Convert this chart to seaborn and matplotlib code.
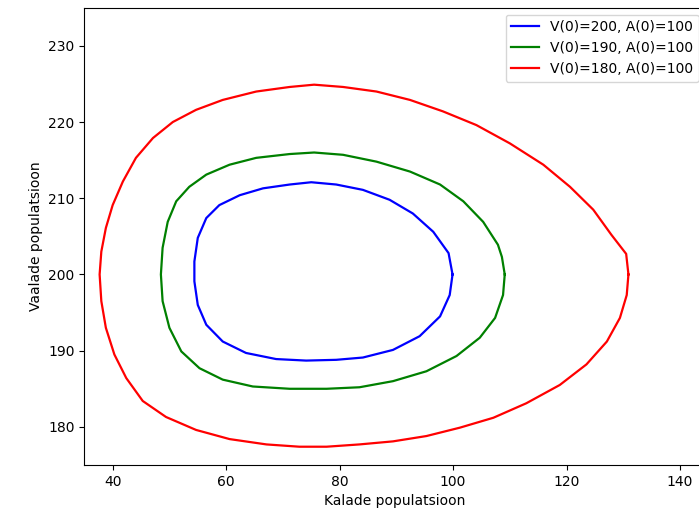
import matplotlib
matplotlib.use("Agg")
import matplotlib.pyplot as plt
import seaborn as sns

# orbits (kalade, vaalade), walked round each loop
blue_x = [99.9, 99.2, 96.5, 92.9, 88.8, 84.1, 79.4, 75.0, 71.2, 66.5, 62.4, 58.8, 56.5, 55.0, 54.4,
          54.4, 55.0, 56.5, 59.4, 63.5, 68.8, 74.1, 79.4, 84.1, 89.4, 94.1, 97.7, 99.4, 99.9]
blue_y = [200.0, 202.8, 205.6, 208.0, 209.8, 211.1, 211.8, 212.1, 211.8, 211.3, 210.4, 209.1, 207.4, 204.8, 201.7,
          199.1, 196.0, 193.4, 191.2, 189.7, 188.9, 188.7, 188.8, 189.1, 190.1, 191.9, 194.5, 197.3, 200.0]

green_x = [109.1, 108.6, 107.9, 105.3, 101.8, 97.7, 92.4, 86.5, 80.6, 75.5, 71.2, 65.3, 60.6, 56.5, 53.5, 51.2, 49.7,
           48.8, 48.5, 48.8, 50.0, 52.1, 55.3, 59.4, 64.7, 71.2, 77.7, 83.5, 89.4, 95.3, 100.6, 104.7, 107.4,
           108.8, 109.1]
green_y = [200.0, 202.3, 203.9, 206.9, 209.6, 211.8, 213.5, 214.8, 215.7, 216.0, 215.8, 215.3, 214.4, 213.1, 211.5, 209.6, 206.9,
           203.5, 200.0, 196.5, 193.0, 189.9, 187.7, 186.2, 185.3, 185.0, 185.0, 185.2, 186.0, 187.3, 189.3, 191.7, 194.3,
           197.3, 200.0]

red_x = [130.9, 130.5, 127.9, 124.7, 120.6, 115.9, 110.0, 104.1, 98.2, 92.4, 86.5, 80.6, 75.5, 71.2, 65.3, 59.4,
         54.7, 50.6, 47.1, 44.1, 41.8, 40.0, 38.8, 38.0, 37.7, 38.0, 38.8, 40.3, 42.4, 45.3, 49.4, 54.7,
         60.6, 67.1, 72.9, 77.7, 83.5, 89.4, 95.3, 101.2, 107.1, 112.9, 118.8, 123.5, 127.1, 129.4, 130.6, 130.9]
red_y = [200.0, 202.7, 205.2, 208.5, 211.5, 214.4, 217.2, 219.6, 221.4, 222.9, 224.0, 224.6, 224.9, 224.6, 224.0, 222.9,
         221.6, 220.0, 217.9, 215.3, 212.2, 209.1, 206.1, 203.0, 200.0, 196.5, 193.0, 189.5, 186.4, 183.4, 181.3, 179.6,
         178.4, 177.7, 177.4, 177.4, 177.7, 178.1, 178.8, 179.9, 181.2, 183.1, 185.5, 188.2, 191.2, 194.3, 197.3, 200.0]

labels = ["V(0)=200, A(0)=100", "V(0)=190, A(0)=100", "V(0)=180, A(0)=100"]
colors = ["blue", "green", "red"]

fig = plt.figure(figsize=(6.99, 5.2), dpi=100)
ax = fig.add_axes([84.3 / 699, 55 / 520, (705.6 - 84.3) / 699, (465 - 7.7) / 520])

for xs, ys, lab, col in zip([blue_x, green_x, red_x], [blue_y, green_y, red_y], labels, colors):
    sns.lineplot(x=xs, y=ys, sort=False, estimator=None, color=col, linewidth=1.6,
                 solid_joinstyle="round", label=lab, ax=ax)

ax.set_xlim(35, 144.5)
ax.set_ylim(175, 235)
ax.set_xticks([40, 60, 80, 100, 120, 140])
ax.set_yticks([180, 190, 200, 210, 220, 230])
ax.set_xlabel("Kalade populatsioon")
ax.set_ylabel("Vaalade populatsioon")
ax.legend(loc="upper right")

fig.savefig("out.png", dpi=100)
